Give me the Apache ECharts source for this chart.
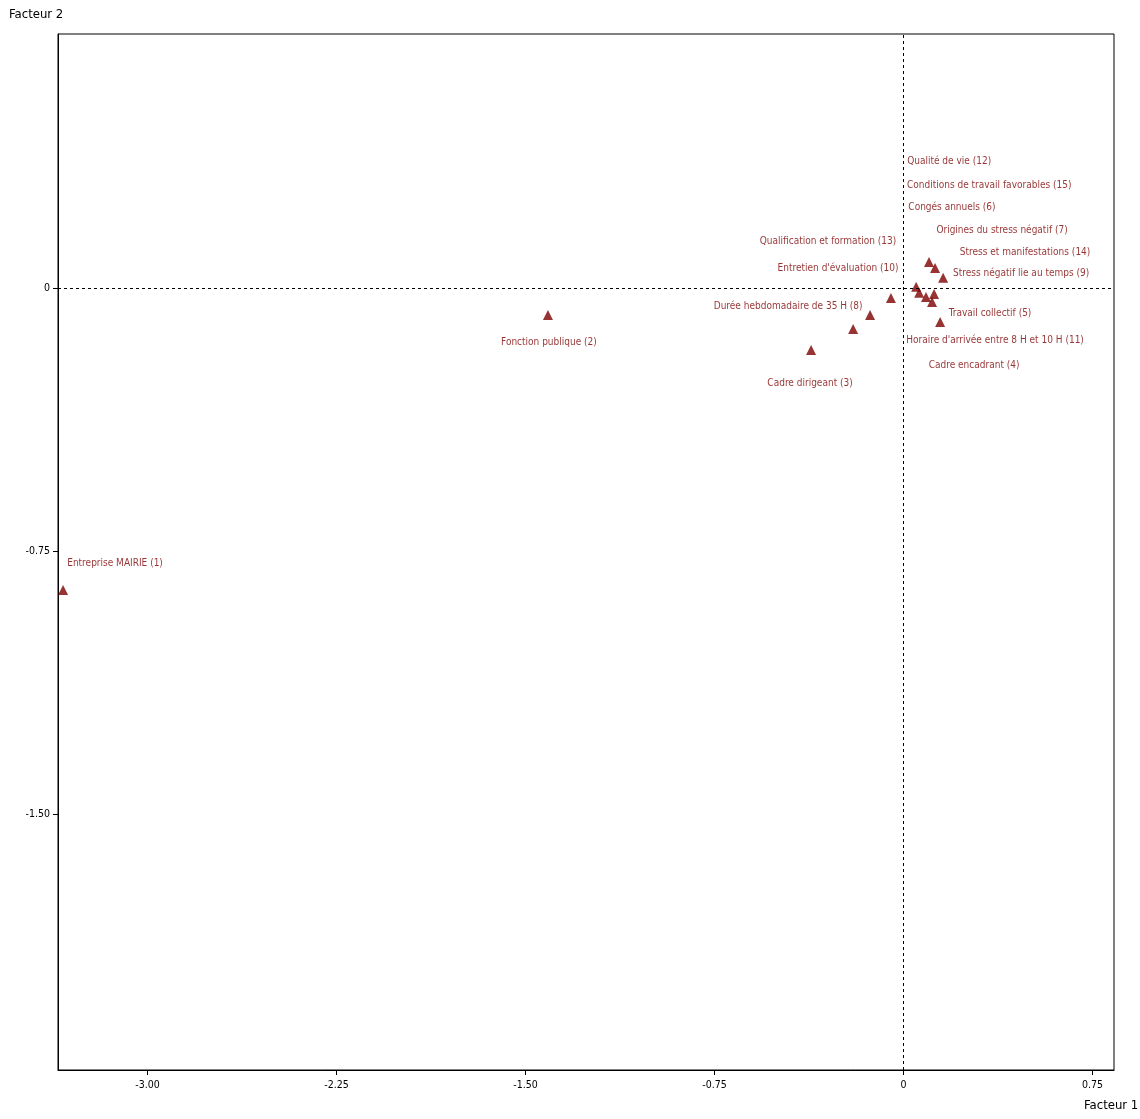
<!DOCTYPE html>
<html>
<head>
<meta charset="utf-8">
<script src="https://cdn.jsdelivr.net/npm/echarts@6/dist/echarts.min.js"></script>
<style>html,body{margin:0;padding:0;background:#fff}#chart{width:1140px;height:1119px}</style>
</head>
<body>
<div id="chart"></div>
<script>
// Data (Facteur 1, Facteur 2 coordinates)
var names = [
  "Entreprise MAIRIE (1)",
  "Fonction publique (2)",
  "Cadre dirigeant (3)",
  "Durée hebdomadaire de 35 H (8)",
  "Entretien d'évaluation (10)",
  "Qualification et formation (13)",
  "Origines du stress négatif (7)",
  "Stress et manifestations (14)",
  "Stress négatif lie au temps (9)",
  "Qualité de vie (12)",
  "Conditions de travail favorables (15)",
  "Congés annuels (6)",
  "Travail collectif (5)",
  "Horaire d'arrivée entre 8 H et 10 H (11)",
  "Cadre encadrant (4)"
];
var factor1 = [-3.335, -1.411, -0.367, -0.200, -0.133, -0.050, 0.101, 0.125, 0.157, 0.050, 0.062, 0.089, 0.121, 0.113, 0.145];
var factor2 = [-0.861, -0.077, -0.177, -0.117, -0.077, -0.029, 0.074, 0.057, 0.029, 0.003, -0.014, -0.026, -0.017, -0.040, -0.097];
var xTicks = [-3.00, -2.25, -1.50, -0.75, 0, 0.75];
var yTicks = [0, -0.75, -1.50];

// Label placement (pixel offsets from each marker, styling only)
var labelOffsets = [
  [52, -26], [1, 27], [-1, 33], [-65, -23], [-32, -47], [-63, -57],
  [73, -32], [90, -16], [78, -4], [33, -125], [70, -107], [26, -90],
  [56, 20], [63, 38], [34, 43]
];

var FONT = '"DejaVu Sans Condensed", "Liberation Sans Narrow", sans-serif';
var RED = '#7d0000';

function fmt(v) {
  if (Math.abs(v) < 1e-9) return '0';
  return v.toFixed(2);
}

var points = names.map(function (n, i) {
  return { name: n, value: [factor1[i], factor2[i]] };
});

var chart = echarts.init(document.getElementById('chart'));
chart.setOption({
  animation: false,
  backgroundColor: '#fff',
  grid: { left: 58, right: 26, top: 34, bottom: 49, show: true, borderColor: '#000', borderWidth: 1, backgroundColor: 'transparent' },
  xAxis: {
    type: 'value', min: -3.355, max: 0.835,
    axisLine: { show: true, onZero: false, lineStyle: { color: '#000', width: 1 } },
    axisTick: { show: true, length: 5, customValues: xTicks, lineStyle: { color: '#000' } },
    axisLabel: { customValues: xTicks, formatter: fmt, color: '#000', fontFamily: FONT, fontSize: 10.5, margin: 10 },
    splitLine: { show: false }
  },
  yAxis: {
    type: 'value', min: -2.230, max: 0.724,
    axisLine: { show: true, onZero: false, lineStyle: { color: '#000', width: 1 } },
    axisTick: { show: true, length: 5, customValues: yTicks, lineStyle: { color: '#000' } },
    axisLabel: { customValues: yTicks, formatter: fmt, color: '#000', fontFamily: FONT, fontSize: 10.5, margin: 8 },
    splitLine: { show: false }
  },
  graphic: [
    { type: 'text', left: 9, top: 8, style: { text: 'Facteur 2', fill: '#000', font: '13px ' + FONT } },
    { type: 'text', left: 1084, top: 1099, style: { text: 'Facteur 1', fill: '#000', font: '13px ' + FONT } }
  ],
  series: [{
    type: 'scatter',
    symbol: 'triangle',
    symbolSize: [10, 10],
    itemStyle: { color: RED },
    label: {
      show: true, position: 'inside', formatter: '{b}', color: RED,
      fontFamily: FONT, fontSize: 10
    },
    labelLayout: function (params) {
      var o = labelOffsets[params.dataIndex];
      return { dx: o[0], dy: o[1], hideOverlap: false };
    },
    data: points,
    markLine: {
      silent: true, symbol: 'none', animation: false,
      label: { show: false },
      lineStyle: { color: '#000', type: [3, 3], width: 1 },
      data: [{ xAxis: 0 }, { yAxis: 0 }]
    }
  }]
});
</script>
</body>
</html>
